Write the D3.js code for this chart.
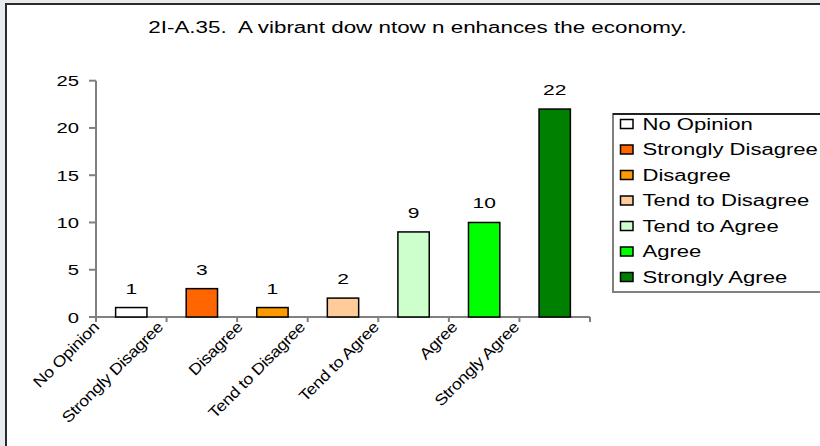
<!DOCTYPE html>
<html>
<head>
<meta charset="utf-8">
<script src="https://cdn.jsdelivr.net/npm/d3@7"></script>
<style>
  html, body { margin: 0; padding: 0; background: #e8ebee; }
  svg { display: block; }
  text { font-family: Arial, "Liberation Sans", sans-serif; fill: #000; white-space: pre; }
</style>
</head>
<body>
<svg id="chart" width="820" height="446"></svg>
<script>
const title = "2I-A.35.  A vibrant dow ntow n enhances the economy.";
const categories = ["No Opinion", "Strongly Disagree", "Disagree", "Tend to Disagree", "Tend to Agree", "Agree", "Strongly Agree"];
const values = [1, 3, 1, 2, 9, 10, 22];
const colors = ["#FFFFFF", "#FF6600", "#FF9900", "#FFCC99", "#CCFFCC", "#00FF00", "#008000"];
const yTicks = [0, 5, 10, 15, 20, 25];

const svg = d3.select("#chart");

// chart frame
svg.append("rect").attr("x", 0).attr("y", 0).attr("width", 820).attr("height", 446).attr("fill", "#e8ebee");
svg.append("rect").attr("x", 6).attr("y", 4).attr("width", 840).attr("height", 470)
  .attr("fill", "#fff").attr("stroke", "#2b2b2b").attr("stroke-width", 2);

// title
svg.append("text")
  .attr("transform", "translate(417.5,33) scale(1.4,1)")
  .attr("text-anchor", "middle")
  .attr("xml:space", "preserve")
  .style("font-size", "16px")
  .text(title);

const x = d3.scaleBand().domain(categories).range([96, 590]).paddingInner(0.556).paddingOuter(0.278);
const y = d3.scaleLinear().domain([0, 25]).range([317, 80.7]);
const step = x.step();

const g = svg.append("g");

// y axis
g.append("line").attr("x1", 96).attr("x2", 96).attr("y1", y(25)).attr("y2", y(0))
  .attr("stroke", "#808080").attr("stroke-width", 2);
g.selectAll(".ytick").data(yTicks).join("line")
  .attr("x1", 89).attr("x2", 96).attr("y1", d => y(d)).attr("y2", d => y(d))
  .attr("stroke", "#808080").attr("stroke-width", 2);
g.selectAll(".ylab").data(yTicks).join("text")
  .attr("transform", d => `translate(79,${y(d) + 5.5}) scale(1.35,1)`)
  .attr("text-anchor", "end")
  .style("font-size", "15px")
  .text(d => d);

// x axis
const xRange = x.range();
g.append("line").attr("x1", 89).attr("x2", xRange[1]).attr("y1", y(0)).attr("y2", y(0))
  .attr("stroke", "#808080").attr("stroke-width", 2);
const boundaries = d3.range(categories.length + 1).map(i => xRange[0] + i * step);
g.selectAll(".xtick").data(boundaries).join("line")
  .attr("x1", d => d).attr("x2", d => d).attr("y1", y(0)).attr("y2", y(0) + 5)
  .attr("stroke", "#808080").attr("stroke-width", 2);

// bars
g.selectAll(".bar").data(values).join("rect")
  .attr("x", (d, i) => x(categories[i]))
  .attr("y", d => y(d))
  .attr("width", x.bandwidth())
  .attr("height", d => y(0) - y(d))
  .attr("fill", (d, i) => colors[i])
  .attr("stroke", "#000").attr("stroke-width", 1.5);

// value labels
g.selectAll(".vlab").data(values).join("text")
  .attr("transform", (d, i) => `translate(${x(categories[i]) + x.bandwidth() / 2},${y(d) - 14}) scale(1.4,1)`)
  .attr("text-anchor", "middle")
  .style("font-size", "15px")
  .text(d => d);

// rotated category labels
const xl = g.selectAll(".xlab").data(categories).join("text")
  .attr("text-anchor", "end")
  .style("font-size", "15.5px")
  .style("letter-spacing", "-0.3px")
  .text(d => d);
xl.each(function(d) {
  const len = this.getComputedTextLength();
  const cx = x(d) + x.bandwidth() / 2;
  const px = cx - 20 - 0.15 * len;
  d3.select(this).attr("transform", `translate(${px},${y(0) + 11}) rotate(-45) scale(1.15,1)`);
});

// legend
const lg = svg.append("g");
const lx = 613, ly = 114, lh = 178;
lg.append("rect").attr("x", lx).attr("y", ly).attr("width", 260).attr("height", lh)
  .attr("fill", "#fff").attr("stroke", "#808080").attr("stroke-width", 2);
lg.append("line").attr("x1", lx).attr("x2", 830).attr("y1", ly).attr("y2", ly)
  .attr("stroke", "#000").attr("stroke-width", 1.5);
const rowY = i => 124 + i * 25.5;
lg.selectAll(".sw").data(categories).join("rect")
  .attr("x", 620.5).attr("y", (d, i) => rowY(i) - 4.5)
  .attr("width", 12.5).attr("height", 9)
  .attr("fill", (d, i) => colors[i])
  .attr("stroke", "#000").attr("stroke-width", 1.5);
lg.selectAll(".lt").data(categories).join("text")
  .attr("transform", (d, i) => `translate(642.5,${rowY(i) + 5.8}) scale(1.38,1)`)
  .style("font-size", "16px")
  .text(d => d);
</script>
</body>
</html>
